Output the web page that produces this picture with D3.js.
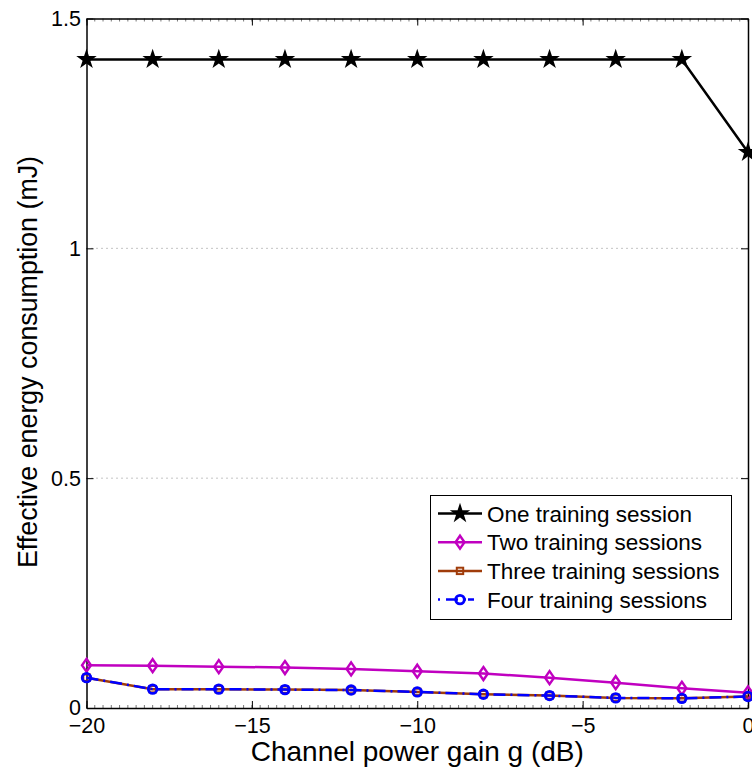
<!DOCTYPE html>
<html><head><meta charset="utf-8">
<script src="https://cdn.jsdelivr.net/npm/d3@7"></script>
<style>body{margin:0;background:#fff}svg{display:block}text{font-family:"Liberation Sans",Arial,sans-serif}</style>
</head><body>
<svg id="c" width="752" height="773"></svg>
<script>
const gains = [-20,-18,-16,-14,-12,-10,-8,-6,-4,-2,0];
const oneSession   = [1.411,1.411,1.411,1.411,1.411,1.411,1.411,1.411,1.411,1.411,1.209];
const twoSessions  = [0.093,0.092,0.090,0.088,0.085,0.080,0.075,0.066,0.055,0.043,0.033];
const threeSessions= [0.066,0.041,0.041,0.040,0.039,0.035,0.030,0.027,0.022,0.021,0.025];
const fourSessions = [0.066,0.041,0.041,0.040,0.039,0.035,0.030,0.027,0.022,0.021,0.025];
const xTicks = [-20,-15,-10,-5,0];
const yTicks = [0,0.5,1,1.5];
const seriesNames = ["One training session","Two training sessions","Three training sessions","Four training sessions"];

const svg = d3.select("#c");
const L=86.5, R=748, T=18.5, B=708;
const x = d3.scaleLinear().domain([-20,0]).range([L,R]);
const y = d3.scaleLinear().domain([0,1.5]).range([B,T]);

// grid lines (dotted)
svg.append("g").selectAll("line").data(yTicks.filter(d=>d>0&&d<1.5)).join("line")
  .attr("x1",L).attr("x2",R).attr("y1",d=>y(d)).attr("y2",d=>y(d))
  .attr("stroke","#888").attr("stroke-width",1).attr("stroke-dasharray","1,4");

// minor ticks on x (bottom & top)
const minor = d3.range(-20,0.001,0.25);
const mg = svg.append("g").attr("stroke","#555").attr("stroke-width",0.8);
minor.forEach(v=>{
  mg.append("line").attr("x1",x(v)).attr("x2",x(v)).attr("y1",B).attr("y2",B-3);
  mg.append("line").attr("x1",x(v)).attr("x2",x(v)).attr("y1",T).attr("y2",T+3);
});

// axes with inward ticks
const fmt = d=> d<0 ? "\u2212"+Math.abs(d) : String(d);
const xb = svg.append("g").attr("transform",`translate(0,${B})`)
  .call(d3.axisBottom(x).tickValues(xTicks).tickFormat(fmt).tickSizeInner(-7).tickSizeOuter(0).tickPadding(10));
const xt = svg.append("g").attr("transform",`translate(0,${T})`)
  .call(d3.axisTop(x).tickValues(xTicks).tickFormat("").tickSizeInner(-7).tickSizeOuter(0));
const yl = svg.append("g").attr("transform",`translate(${L},0)`)
  .call(d3.axisLeft(y).tickValues(yTicks).tickFormat(d=>String(d)).tickSizeInner(-7).tickSizeOuter(0).tickPadding(5.5));
const yr = svg.append("g").attr("transform",`translate(${R},0)`)
  .call(d3.axisRight(y).tickValues(yTicks).tickFormat("").tickSizeInner(-7).tickSizeOuter(0));
[xb,xt,yl,yr].forEach(g=>{
  g.selectAll(".domain").attr("stroke","#000").attr("stroke-width",1.5);
  g.selectAll(".tick line").attr("stroke","#000").attr("stroke-width",1);
  g.selectAll("text").attr("font-size",21.5).attr("fill","#000");
});

// series
const line = d3.line().x((d,i)=>x(gains[i])).y(d=>y(d));
const plot = svg.append("g");
function drawSeries(vals, color, dash, width){
  plot.append("path").datum(vals).attr("d",line).attr("fill","none")
    .attr("stroke",color).attr("stroke-width",width).attr("stroke-dasharray",dash||null);
}
function markers(vals, kind){
  const g = plot.append("g");
  vals.forEach((v,i)=>drawMarker(g, x(gains[i]), y(v), kind));
}
function drawMarker(g,cx,cy,kind){
  if(kind==="star"){
    g.append("path").attr("d",d3.symbol(d3.symbolStar,130)()).attr("transform",`translate(${cx},${cy})`).attr("fill","#000");
  } else if(kind==="diamond"){
    g.append("path").attr("d",`M0,-6.5L4.5,0L0,6.5L-4.5,0Z`).attr("transform",`translate(${cx},${cy})`)
      .attr("fill","none").attr("stroke","#C000C0").attr("stroke-width",2.4);
  } else if(kind==="square"){
    g.append("rect").attr("x",cx-3.2).attr("y",cy-3.2).attr("width",6.4).attr("height",6.4)
      .attr("fill","none").attr("stroke","#A03C0A").attr("stroke-width",2);
  } else if(kind==="circle"){
    g.append("circle").attr("cx",cx).attr("cy",cy).attr("r",4.3)
      .attr("fill","none").attr("stroke","#0000FF").attr("stroke-width",2.8);
  }
}
drawSeries(oneSession,"#000",null,2.5); markers(oneSession,"star");
drawSeries(twoSessions,"#C000C0",null,2.5); markers(twoSessions,"diamond");
drawSeries(threeSessions,"#A03C0A",null,2.5); markers(threeSessions,"square");
drawSeries(fourSessions,"#0000FF","12,5,2,5",2.5); markers(fourSessions,"circle");

// labels
svg.append("text").attr("x",(L+R)/2).attr("y",761).attr("text-anchor","middle")
  .attr("font-size",28).text("Channel power gain g (dB)");
svg.append("text").attr("transform",`translate(37,362) rotate(-90)`).attr("text-anchor","middle")
  .attr("font-size",26.8).text("Effective energy consumption (mJ)");

// legend
const lg = svg.append("g");
lg.append("rect").attr("x",430.5).attr("y",495.5).attr("width",301).attr("height",124)
  .attr("fill","#fff").attr("stroke","#000").attr("stroke-width",1);
const styles = [
  {c:"#000",dash:null,kind:"star"},
  {c:"#C000C0",dash:null,kind:"diamond"},
  {c:"#A03C0A",dash:null,kind:"square"},
  {c:"#0000FF",dash:"2,6,12,6,2",kind:"circle"}
];
seriesNames.forEach((n,i)=>{
  const yy = 513.5 + i*28.7;
  lg.append("line").attr("x1",438).attr("x2",482).attr("y1",yy).attr("y2",yy)
    .attr("stroke",styles[i].c).attr("stroke-width",2.5).attr("stroke-dasharray",styles[i].dash);
  drawMarker(lg,460,yy,styles[i].kind);
  lg.append("text").attr("x",487).attr("y",yy).attr("dy","0.36em").attr("font-size",22.5).text(n);
});
</script>
</body></html>
